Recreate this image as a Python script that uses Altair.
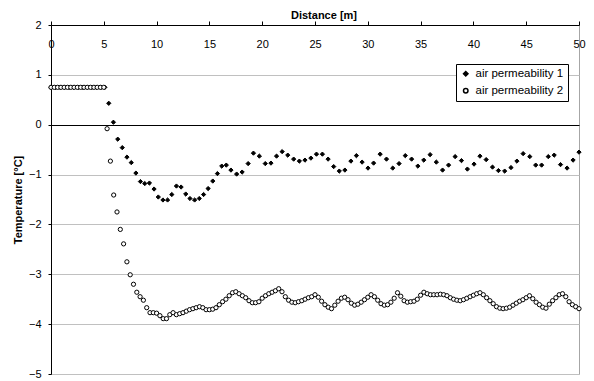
import altair as alt
import pandas as pd

series_names = ["air permeability 1", "air permeability 2"]

# series 1 (filled diamonds): distance [m] and temperature [°C]
d_x = [0.0, 0.43, 0.86, 1.29, 1.72, 2.15, 2.58, 3.01, 3.44, 3.87, 4.3, 4.73, 5.1,
       5.47, 5.91, 6.32, 6.75, 7.19, 7.6, 8.04, 8.47, 8.88, 9.32,
       9.76, 10.16, 10.6, 11.04, 11.44, 11.88, 12.32, 12.76, 13.16, 13.6,
       14.04, 14.45, 14.88, 15.32, 15.76, 16.17, 16.6, 17.04, 17.58, 18.1,
       18.67, 19.17, 19.73,
       20.29, 20.83, 21.36, 21.89, 22.42, 22.98, 23.52, 24.05, 24.61, 25.14,
       25.7, 26.24, 26.77, 27.3, 27.83, 28.4, 28.92, 29.46, 30.02, 30.55,
       31.17, 31.77, 32.36, 32.96, 33.55, 34.15, 34.74,
       35.3, 35.9, 36.49, 37.08, 37.65, 38.27, 38.87, 39.43, 40.06, 40.62,
       41.21, 41.81, 42.37, 42.96, 43.56, 44.12, 44.71, 45.34, 45.9, 46.46,
       47.09, 47.65, 48.25, 48.87, 49.44, 50.0]
d_y = [0.75, 0.75, 0.75, 0.75, 0.75, 0.75, 0.75, 0.75, 0.75, 0.75, 0.75, 0.75, 0.75,
       0.43, 0.05, -0.29, -0.46, -0.65, -0.76, -0.97, -1.14, -1.18, -1.17,
       -1.29, -1.45, -1.51, -1.51, -1.40, -1.23, -1.25, -1.39, -1.48, -1.51,
       -1.48, -1.40, -1.28, -1.13, -0.98, -0.83, -0.81, -0.91, -0.99, -0.95,
       -0.78, -0.57, -0.63,
       -0.78, -0.77, -0.63, -0.54, -0.61, -0.69, -0.73, -0.71, -0.67, -0.59,
       -0.59, -0.69, -0.84, -0.93, -0.91, -0.73, -0.62, -0.75, -0.87, -0.77,
       -0.59, -0.69, -0.87, -0.78, -0.62, -0.69, -0.83,
       -0.71, -0.60, -0.75, -0.91, -0.81, -0.64, -0.72, -0.89, -0.79, -0.63,
       -0.70, -0.85, -0.92, -0.93, -0.86, -0.73, -0.58, -0.64, -0.81, -0.81,
       -0.64, -0.61, -0.80, -0.87, -0.71, -0.55]

# series 2 (open circles): one reading every 0.3125 m
c_step = 0.3125
c_y = [0.75, 0.75, 0.75, 0.75, 0.75, 0.75, 0.75, 0.75, 0.75, 0.75,
       0.75, 0.75, 0.75, 0.75, 0.75, 0.75, 0.75,
       -0.08, -0.73, -1.41, -1.75, -2.10, -2.39, -2.75, -3.01, -3.20, -3.36,
       -3.45, -3.52, -3.67, -3.77, -3.77, -3.78, -3.83, -3.89, -3.89, -3.81,
       -3.77, -3.81, -3.79, -3.77, -3.74, -3.71, -3.69, -3.67, -3.65, -3.67,
       -3.71, -3.71, -3.70, -3.67, -3.61, -3.55, -3.50, -3.43, -3.37, -3.35,
       -3.39, -3.43, -3.47, -3.53, -3.57, -3.57, -3.55, -3.48, -3.43, -3.39,
       -3.36, -3.33, -3.29, -3.35, -3.45, -3.52, -3.56, -3.57, -3.55, -3.53,
       -3.50, -3.47, -3.45, -3.41, -3.46, -3.54, -3.61, -3.66, -3.69, -3.62,
       -3.54, -3.48, -3.46, -3.51, -3.58, -3.62, -3.60, -3.56, -3.51, -3.46,
       -3.41, -3.45, -3.52, -3.59, -3.62, -3.61, -3.56, -3.48, -3.37, -3.44,
       -3.53, -3.56, -3.55, -3.54, -3.50, -3.42, -3.36, -3.39, -3.41, -3.41,
       -3.41, -3.40, -3.41, -3.43, -3.47, -3.50, -3.52, -3.53, -3.51, -3.48,
       -3.45, -3.42, -3.39, -3.37, -3.41, -3.47, -3.53, -3.59, -3.65, -3.68,
       -3.69, -3.68, -3.66, -3.62, -3.58, -3.54, -3.51, -3.47, -3.43, -3.49,
       -3.56, -3.61, -3.66, -3.68, -3.60, -3.53, -3.47, -3.41, -3.39, -3.45,
       -3.55, -3.61, -3.65, -3.69]
c_x = [round(i * c_step, 4) for i in range(len(c_y))]

x_ticks = [0, 5, 10, 15, 20, 25, 30, 35, 40, 45, 50]
y_ticks = [-5, -4, -3, -2, -1, 0, 1, 2]

df = pd.concat([
    pd.DataFrame({"distance": d_x, "temp": d_y, "series": series_names[0]}),
    pd.DataFrame({"distance": c_x, "temp": c_y, "series": series_names[1]}),
], ignore_index=True)

FONT = "Liberation Sans"

legend_spec = dict(
    title=None, orient="none", legendX=405, legendY=39,
    fillColor="white", strokeColor="black", padding=4, rowPadding=4,
    symbolSize=20, labelFont=FONT, labelFontSize=11.5, labelColor="black",
)

chart = alt.Chart(df).mark_point(filled=True, opacity=1, strokeWidth=1, stroke="black", size=18).encode(
    x=alt.X("distance:Q", scale=alt.Scale(domain=[0, 50], nice=False, zero=False), title="Distance [m]",
            axis=alt.Axis(orient="top", values=x_ticks, grid=False, tickSize=4,
                          labelPadding=-26, labelBaseline="alphabetic", labelFlush=False,
                          labelFont=FONT, labelFontSize=11, labelColor="black",
                          domainColor="black", tickColor="black",
                          titleFont=FONT, titleFontSize=11, titleFontWeight="bold", titleColor="black",
                          titleX=272.5, titleY=-7, titleBaseline="alphabetic", titleAlign="center")),
    y=alt.Y("temp:Q", scale=alt.Scale(domain=[-5, 2], nice=False, zero=False), title="Temperature [°C]",
            axis=alt.Axis(values=y_ticks, grid=True,
                          gridColor={"condition": {"test": "datum.value === 0", "value": "black"},
                                     "value": "#c0c0c0"},
                          tickSize=3, labelPadding=7,
                          labelFont=FONT, labelFontSize=11, labelColor="black",
                          domainColor="black", tickColor="black",
                          titleFont=FONT, titleFontSize=11, titleFontWeight="bold", titleColor="black",
                          titleX=-33, titleY=174.5, titleBaseline="middle", titleAlign="center")),
    shape=alt.Shape("series:N", scale=alt.Scale(domain=series_names, range=["diamond", "circle"]),
                    legend=alt.Legend(**legend_spec)),
    fill=alt.Fill("series:N", scale=alt.Scale(domain=series_names, range=["black", "white"]),
                  legend=alt.Legend(**legend_spec)),
).properties(
    width=528, height=349,
    autosize=alt.AutoSizeParams(type="none"),
    padding={"left": 43, "top": 17, "right": 7, "bottom": 5},
).configure_view(stroke="#a6a6a6", strokeWidth=1)

chart.save("out.html", embed_options={"renderer": "svg", "actions": False})
